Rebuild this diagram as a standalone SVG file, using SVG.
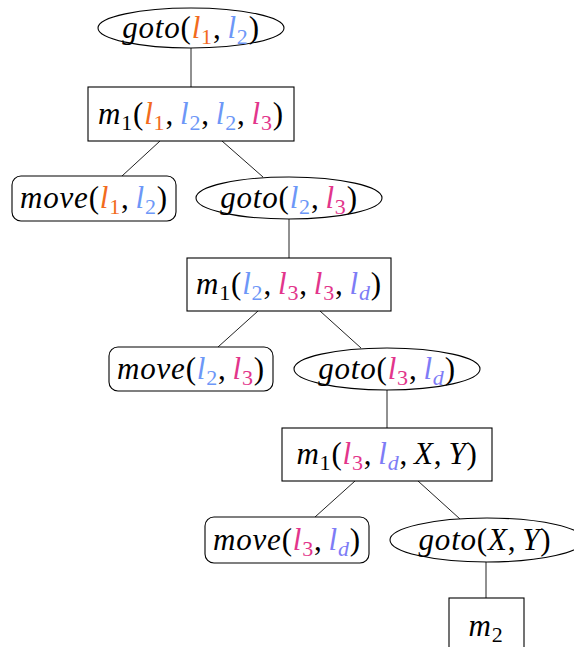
<svg xmlns="http://www.w3.org/2000/svg" width="574" height="647" viewBox="0 0 574 647">
<style>
.n{fill:#fff;stroke:#000;stroke-width:1.1}
.e line{stroke:#222;stroke-width:1}
.t{font-family:"Liberation Serif","DejaVu Serif",serif;font-size:31px;letter-spacing:0.8px;text-anchor:middle;fill:#000}
.i{font-style:italic}
.s{font-size:22px}
.o{fill:#f26b1d}
.b{fill:#6d97f7}
.p{fill:#e2358b}
.v{fill:#7e7cf6}
</style>
<rect width="574" height="647" fill="#fff"/>
<g class="e" id="edges">
<line x1="191" y1="48" x2="191" y2="87"/>
<line x1="160" y1="141" x2="122" y2="176"/>
<line x1="222" y1="141" x2="263" y2="177"/>
<line x1="289" y1="219" x2="289" y2="258"/>
<line x1="258" y1="311" x2="218" y2="347"/>
<line x1="320" y1="311" x2="361" y2="348"/>
<line x1="387" y1="390" x2="387" y2="428"/>
<line x1="355" y1="481" x2="315" y2="517"/>
<line x1="418" y1="481" x2="460" y2="519"/>
<line x1="486" y1="561" x2="486" y2="598"/>
</g>
<g id="goto1">
<ellipse class="n" cx="191" cy="28" rx="93" ry="20"/>
<text class="t" x="191" y="38"><tspan class="i">goto</tspan>(<tspan class="i o">l</tspan><tspan class="s o" dy="6">1</tspan><tspan dy="-6">,</tspan><tspan class="i b" dx="6">l</tspan><tspan class="s b" dy="6">2</tspan><tspan dy="-6">)</tspan></text>
</g>
<g id="m1a">
<rect class="n" x="88" y="87" width="206" height="54"/>
<text class="t" x="191" y="124"><tspan class="i">m</tspan><tspan class="s" dy="6">1</tspan><tspan dy="-6">(</tspan><tspan class="i o">l</tspan><tspan class="s o" dy="6">1</tspan><tspan dy="-6">,</tspan><tspan class="i b" dx="6">l</tspan><tspan class="s b" dy="6">2</tspan><tspan dy="-6">,</tspan><tspan class="i b" dx="6">l</tspan><tspan class="s b" dy="6">2</tspan><tspan dy="-6">,</tspan><tspan class="i p" dx="6">l</tspan><tspan class="s p" dy="6">3</tspan><tspan dy="-6">)</tspan></text>
</g>
<g id="move1">
<rect class="n" x="12" y="176" width="164" height="45" rx="9"/>
<text class="t" x="94" y="208"><tspan class="i">move</tspan>(<tspan class="i o">l</tspan><tspan class="s o" dy="6">1</tspan><tspan dy="-6">,</tspan><tspan class="i b" dx="6">l</tspan><tspan class="s b" dy="6">2</tspan><tspan dy="-6">)</tspan></text>
</g>
<g id="goto2">
<ellipse class="n" cx="289" cy="198" rx="93" ry="21"/>
<text class="t" x="289" y="208"><tspan class="i">goto</tspan>(<tspan class="i b">l</tspan><tspan class="s b" dy="6">2</tspan><tspan dy="-6">,</tspan><tspan class="i p" dx="6">l</tspan><tspan class="s p" dy="6">3</tspan><tspan dy="-6">)</tspan></text>
</g>
<g id="m1b">
<rect class="n" x="187" y="258" width="204" height="53"/>
<text class="t" x="289" y="294"><tspan class="i">m</tspan><tspan class="s" dy="6">1</tspan><tspan dy="-6">(</tspan><tspan class="i b">l</tspan><tspan class="s b" dy="6">2</tspan><tspan dy="-6">,</tspan><tspan class="i p" dx="6">l</tspan><tspan class="s p" dy="6">3</tspan><tspan dy="-6">,</tspan><tspan class="i p" dx="6">l</tspan><tspan class="s p" dy="6">3</tspan><tspan dy="-6">,</tspan><tspan class="i v" dx="6">l</tspan><tspan class="s i v" dy="6">d</tspan><tspan dy="-6">)</tspan></text>
</g>
<g id="move2">
<rect class="n" x="109" y="347" width="164" height="44" rx="9"/>
<text class="t" x="191" y="379"><tspan class="i">move</tspan>(<tspan class="i b">l</tspan><tspan class="s b" dy="6">2</tspan><tspan dy="-6">,</tspan><tspan class="i p" dx="6">l</tspan><tspan class="s p" dy="6">3</tspan><tspan dy="-6">)</tspan></text>
</g>
<g id="goto3">
<ellipse class="n" cx="387" cy="369" rx="93" ry="21"/>
<text class="t" x="387" y="379"><tspan class="i">goto</tspan>(<tspan class="i p">l</tspan><tspan class="s p" dy="6">3</tspan><tspan dy="-6">,</tspan><tspan class="i v" dx="6">l</tspan><tspan class="s i v" dy="6">d</tspan><tspan dy="-6">)</tspan></text>
</g>
<g id="m1c">
<rect class="n" x="282" y="428" width="210" height="53"/>
<text class="t" x="387" y="464"><tspan class="i">m</tspan><tspan class="s" dy="6">1</tspan><tspan dy="-6">(</tspan><tspan class="i p">l</tspan><tspan class="s p" dy="6">3</tspan><tspan dy="-6">,</tspan><tspan class="i v" dx="6">l</tspan><tspan class="s i v" dy="6">d</tspan><tspan dy="-6">,</tspan><tspan class="i" dx="6">X</tspan>,<tspan class="i" dx="6">Y</tspan>)</text>
</g>
<g id="move3">
<rect class="n" x="205" y="517" width="164" height="46" rx="9"/>
<text class="t" x="287" y="550"><tspan class="i">move</tspan>(<tspan class="i p">l</tspan><tspan class="s p" dy="6">3</tspan><tspan dy="-6">,</tspan><tspan class="i v" dx="6">l</tspan><tspan class="s i v" dy="6">d</tspan><tspan dy="-6">)</tspan></text>
</g>
<g id="goto4">
<ellipse class="n" cx="487" cy="540" rx="97" ry="22"/>
<text class="t" x="485" y="550"><tspan class="i">goto</tspan>(<tspan class="i">X</tspan>,<tspan class="i" dx="6">Y</tspan>)</text>
</g>
<g id="m2">
<rect class="n" x="449" y="598" width="75" height="60"/>
<text class="t" x="486" y="636"><tspan class="i">m</tspan><tspan class="s" dy="6">2</tspan></text>
</g>
</svg>
